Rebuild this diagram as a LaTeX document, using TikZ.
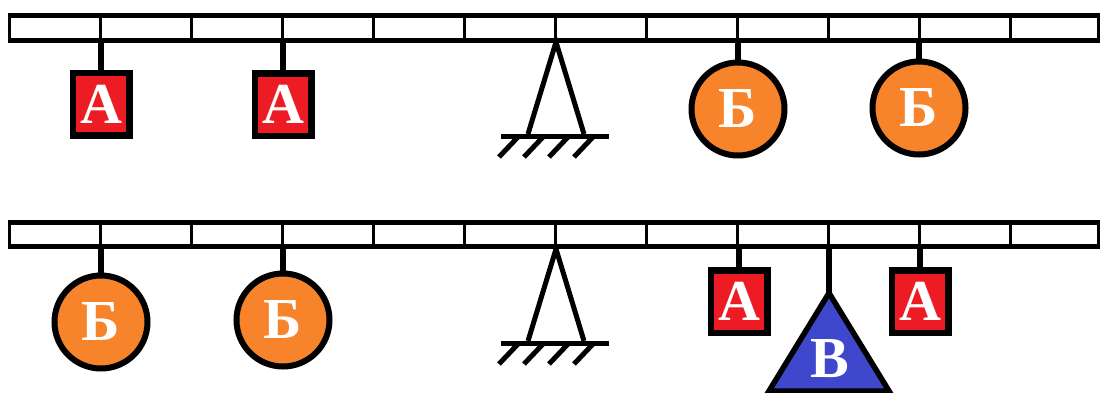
\documentclass[tikz,border=0pt]{standalone}
\usepackage{fontspec}
\newfontfamily\weightfont{Liberation Serif}[BoldFont={Liberation Serif Bold}]
\definecolor{wred}{HTML}{ED1C24}
\definecolor{worange}{HTML}{F7842A}
\definecolor{wblue}{HTML}{3F48CC}
\begin{document}
\begin{tikzpicture}[x=1pt,y=-1pt,
  thick line/.style={line width=5pt},
  thin line/.style={line width=3pt},
  wfont/.style={text=white,font=\weightfont\bfseries\fontsize{58}{58}\selectfont},
  letter/.style={wfont,inner sep=0pt},
  boxweight/.style={wfont,draw=black,line width=6.5pt,fill=wred,minimum width=56.5pt,minimum height=62.5pt,inner sep=0pt},
  ballweight/.style={wfont,circle,draw=black,line width=6pt,fill=worange,minimum size=93pt,inner sep=0pt},
  hanger/.style={line width=5.5pt},
  ground/.style={line width=5pt}]
\useasboundingbox (0,0) rectangle (1101,392);

% beam: two long rails, thin ends and dividers every 91 units
\newcommand{\lever}[2]{%
  \draw[thin line] (9.5,#1) -- (9.5,#2);
  \draw[thin line] (1098.5,#1) -- (1098.5,#2);
  \foreach \k in {1,...,11}{
    \draw[thin line] ({9.5+91*\k},#1) -- ({9.5+91*\k},#2);
  }
  \draw[thick line] (8,#1) -- (1100,#1);
  \draw[thick line] (8,#2) -- (1100,#2);
}
% pivot with hatched ground
\newcommand{\pivot}[2]{%
  \coordinate (#2apex) at (556,#1);
  \draw[line width=5pt,line join=miter] (528,#1+92) -- (#2apex) -- (584,#1+92);
  \draw[ground] (501,#1+94) -- (609,#1+94);
  \foreach \h in {518,543,568,593}{
    \draw[ground] (\h,#1+95) -- (\h-19,#1+115);
  }
}

% upper lever
\lever{15.8}{40}
\pivot{42}{up}
\coordinate (ubeam) at (0,42);
\node[boxweight] (ua1) at (101,104) {А};
\node[boxweight] (ua2) at (283,104.5) {А};
\node[ballweight] (ub1) at (738,109) {Б};
\node[ballweight] (ub2) at (919,108) {Б};
\foreach \w in {ua1,ua2,ub1,ub2}{
  \draw[hanger] (\w.north |- ubeam) -- (\w.north);
}

% lower lever
\lever{222.5}{246}
\pivot{249}{lo}
\coordinate (lbeam) at (0,249);
\node[ballweight] (lb1) at (101,322) {Б};
\node[ballweight] (lb2) at (283,320) {Б};
\node[boxweight] (la1) at (739,301.5) {А};
\node[boxweight] (la2) at (920,301.5) {А};
\foreach \w in {lb1,lb2,la1,la2}{
  \draw[hanger] (\w.north |- lbeam) -- (\w.north);
}
\coordinate (tip) at (829,293);
\filldraw[fill=wblue,draw=black,line width=5.5pt,line join=miter] (tip) -- (889,391) -- (769,391) -- cycle;
\node[letter] (vb) at (830,359) {В};
\draw[hanger] (tip |- lbeam) -- (tip);
\end{tikzpicture}
\end{document}
